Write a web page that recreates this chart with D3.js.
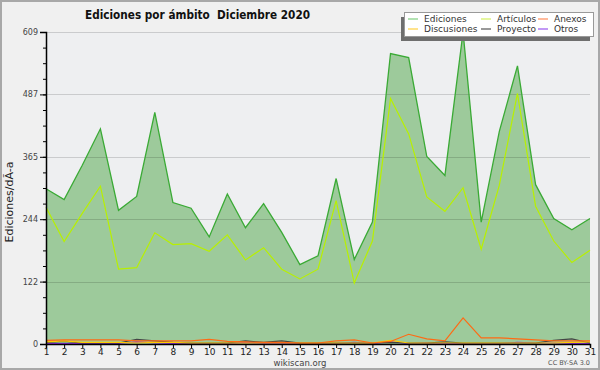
<!DOCTYPE html>
<html>
<head>
<meta charset="utf-8">
<script src="https://cdn.jsdelivr.net/npm/d3@7"></script>
<style>
  body { margin: 0; background: #f0f0f0; }
  svg { display: block; font-family: "DejaVu Sans", sans-serif; }
</style>
</head>
<body>
<div id="chart"></div>
<script>
var days = [1,2,3,4,5,6,7,8,9,10,11,12,13,14,15,16,17,18,19,20,21,22,23,24,25,26,27,28,29,30,31];
var ediciones   = [303,282,349,420,261,288,452,276,265,209,293,227,274,218,155,172,323,165,238,567,559,366,329,609,238,415,543,311,245,223,245];
var articulos   = [267,200,255,308,146,149,217,194,196,181,213,164,188,146,127,146,280,119,201,479,410,287,259,305,185,310,489,269,201,159,183];
var anexos      = [7,8,8,8,8,6,6,6,6,9,5,4,3,3,2,2,6,8,2,5,19,10,6,51,12,12,10,8,6,6,6];
var discusiones = [4,6,3,3,3,2,3,3,2,2,2,2,2,2,2,2,2,2,2,7,2,2,2,2,2,2,2,2,2,3,4];
var proyecto    = [3,5,2,2,2,9,6,3,2,2,2,6,3,6,2,2,2,2,2,3,2,2,4,2,2,2,2,2,7,10,2];
var otros       = [1,1,1,1,1,4,2,1,1,1,1,3,1,1,1,1,1,3,1,4,1,2,1,1,1,1,3,2,2,1,1];
var yMax = 609;
var yTickLabels = ["0","122","244","365","487","609"];

var W = 600, H = 370;
var margin = {top: 32, right: 10, bottom: 26, left: 46},
    width = W - margin.left - margin.right,
    height = H - margin.top - margin.bottom;

var svg = d3.select("#chart").append("svg")
    .attr("width", W).attr("height", H);

// frame
svg.append("rect").attr("x", 1).attr("y", 1).attr("width", W - 2).attr("height", H - 2)
  .attr("fill", "#f0f0f0").attr("stroke", "#a8a8a8").attr("stroke-width", 2);

var g = svg.append("g")
  .attr("transform", "translate(" + margin.left + "," + margin.top + ")");

var x = d3.scaleLinear().domain([1, 31]).range([0, width]);
var y = d3.scaleLinear().domain([0, yMax]).range([height, 0]);

// plot background
g.append("rect").attr("width", width).attr("height", height).attr("fill", "#eeeff1");

// area for total
g.append("path")
  .datum(days)
  .attr("fill", "#9dca9b")
  .attr("d", d3.area()
    .x(function(d) { return x(d); })
    .y0(height)
    .y1(function(d, i) { return y(ediciones[i]); }));

// grid
var majors = yTickLabels.map(function(t, i) { return yMax * i / 5; });
g.append("g").selectAll("line").data(majors.slice(1)).enter().append("line")
  .attr("x1", 0).attr("x2", width)
  .attr("y1", function(d) { return Math.round(y(d)) + 0.5; })
  .attr("y2", function(d) { return Math.round(y(d)) + 0.5; })
  .attr("stroke", "#000").attr("stroke-opacity", 0.15);

function addLine(values, color, w) {
  g.append("path")
    .datum(values)
    .attr("fill", "none")
    .attr("stroke", color)
    .attr("stroke-width", w)
    .attr("d", d3.line()
      .x(function(d, i) { return x(days[i]); })
      .y(function(d) { return y(d); }));
}
addLine(otros, "#8a2be2", 1.2);
addLine(proyecto, "#444444", 1.2);
addLine(discusiones, "#ffcc00", 1.2);
addLine(anexos, "#ff6a13", 1.2);
addLine(articulos, "#b8f000", 1.2);
addLine(ediciones, "#3aaa35", 1.3);

// axes
var minors = d3.range(0, 21).map(function(i) { return yMax * i / 20; });
g.append("g")
  .call(d3.axisLeft(y).tickValues(minors).tickSize(3).tickFormat(""))
  .call(function(a) { a.select(".domain").remove(); a.selectAll("line").attr("stroke", "#000"); });
var yAxis = g.append("g")
  .call(d3.axisLeft(y).tickValues(majors).tickSize(6).tickPadding(2)
    .tickFormat(function(d, i) { return yTickLabels[i]; }));
yAxis.selectAll("text").attr("font-size", "8px").attr("fill", "#444")
  .attr("font-family", "DejaVu Sans, sans-serif");

var xAxis = g.append("g")
  .attr("transform", "translate(0," + height + ")")
  .call(d3.axisBottom(x).tickValues(days).tickSize(4).tickPadding(1).tickFormat(d3.format("d")));
xAxis.selectAll("text").attr("font-size", "9px").attr("fill", "#222")
  .attr("font-family", "DejaVu Sans, sans-serif");

g.selectAll(".domain").attr("stroke", "#000").attr("stroke-width", 1.5);

// title
svg.append("text")
  .attr("x", 85).attr("y", 19)
  .style("white-space", "pre")
  .attr("font-weight", "bold").attr("font-size", "12.5px").attr("fill", "#111")
  .attr("textLength", 225).attr("lengthAdjust", "spacingAndGlyphs")
  .text("Ediciones por ámbito  Diciembre 2020");

// y label
svg.append("text")
  .attr("transform", "translate(13,202) rotate(-90)")
  .attr("text-anchor", "middle").attr("font-size", "11px").attr("fill", "#222")
  .text("Ediciones/dÃ-a");

// footer
svg.append("text").attr("x", 300).attr("y", 365.5).attr("text-anchor", "middle")
  .attr("font-size", "8.5px").attr("fill", "#444").text("wikiscan.org");
svg.append("text").attr("x", 590).attr("y", 365).attr("text-anchor", "end")
  .attr("font-size", "6.5px").attr("fill", "#555").text("CC BY-SA 3.0");

// legend
var legendNames = ["Ediciones", "Artículos", "Anexos", "Discusiones", "Proyecto", "Otros"];
var legendColors = ["#7fcf7f", "#d4f060", "#ff8c5a", "#ffd040", "#555555", "#9a55ee"];
var lg = svg.append("g");
lg.append("rect").attr("x", 401).attr("y", 17).attr("width", 189).attr("height", 24).attr("fill", "#6e6e6e");
lg.append("rect").attr("x", 404.5).attr("y", 12.5).attr("width", 189).attr("height", 24)
  .attr("fill", "#fff").attr("stroke", "#999");
var colX = [408, 481, 538], rowY = [22, 32];
legendNames.forEach(function(name, i) {
  var cx = colX[i % 3], cy = rowY[Math.floor(i / 3)];
  lg.append("line").attr("x1", cx).attr("x2", cx + 10).attr("y1", cy - 3).attr("y2", cy - 3)
    .attr("stroke", legendColors[i]).attr("stroke-width", 1.2);
  lg.append("text").attr("x", cx + 16).attr("y", cy).attr("font-size", "9px").attr("fill", "#333").text(name);
});
</script>
</body>
</html>
